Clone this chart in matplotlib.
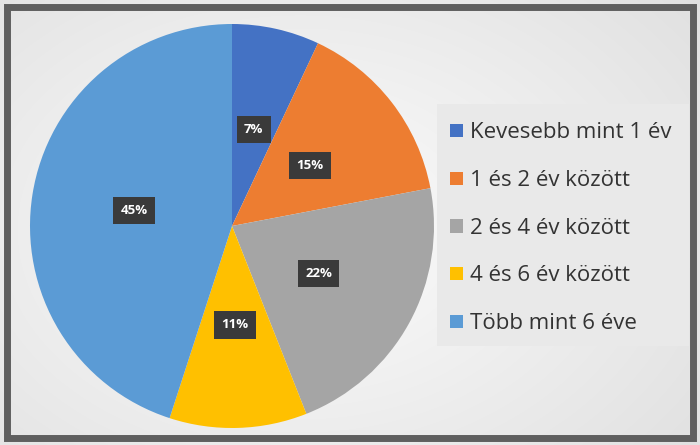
import matplotlib
matplotlib.use("Agg")
import matplotlib.pyplot as plt
import numpy as np
from matplotlib.patches import Rectangle, Patch

categories = ["Kevesebb mint 1 év", "1 és 2 év között", "2 és 4 év között",
              "4 és 6 év között", "Több mint 6 éve"]
values = [7, 15, 22, 11, 45]
colors = ["#4472C4", "#ED7D31", "#A5A5A5", "#FFC000", "#5B9BD5"]

plt.rcParams['font.family'] = ['Open Sans', 'DejaVu Sans']

W, H = 700, 445
fig = plt.figure(figsize=(W/100, H/100), dpi=100)

# background with frame
bg = fig.add_axes([0, 0, 1, 1])
bg.set_xlim(0, W); bg.set_ylim(H, 0); bg.axis('off')
yy, xx = np.mgrid[0:H, 0:W]
d = np.sqrt(((xx-300)/420.0)**2 + ((yy-230)/300.0)**2)
grad = np.clip(0.99 - 0.09*d, 0.86, 0.99)
bg.imshow(np.dstack([grad, grad, grad]), extent=(0, W, H, 0), aspect='auto', zorder=0)
bg.add_patch(Rectangle((7, 7), W-14, H-14, fill=False, edgecolor='#5f5f5f', linewidth=5, zorder=2))

# pie
cx, cy, r = 232, 226, 202
ax = fig.add_axes([(cx-r)/W, (H-cy-r)/H, 2*r/W, 2*r/H])
wedges, texts, autotexts = ax.pie(values, colors=colors, startangle=90, counterclock=False,
                                  autopct='%d%%', pctdistance=0.49,
                                  wedgeprops=dict(linewidth=0))
for t in autotexts:
    t.set_color('white'); t.set_fontsize(9.5); t.set_fontweight('bold')
    t.set_bbox(dict(boxstyle='square,pad=0.55', facecolor='#3a3a3a', edgecolor='none'))
ax.set_xlim(-1, 1); ax.set_ylim(-1, 1)
ax.set_aspect('equal')

# legend box
bg.add_patch(Rectangle((437, 104), 252, 242, facecolor='#e9e9e9', edgecolor='none', zorder=1))
handles = [Patch(facecolor=c, edgecolor='none') for c in colors]
leg = fig.legend(handles, categories, loc='upper left', bbox_to_anchor=(446/W, 1-118/H),
                 frameon=False, fontsize=16, handlelength=0.55, handleheight=0.55,
                 handletextpad=0.35, labelspacing=1.2, labelcolor='#333333',
                 borderpad=0.2, borderaxespad=0)

fig.savefig('out.png', dpi=100)
